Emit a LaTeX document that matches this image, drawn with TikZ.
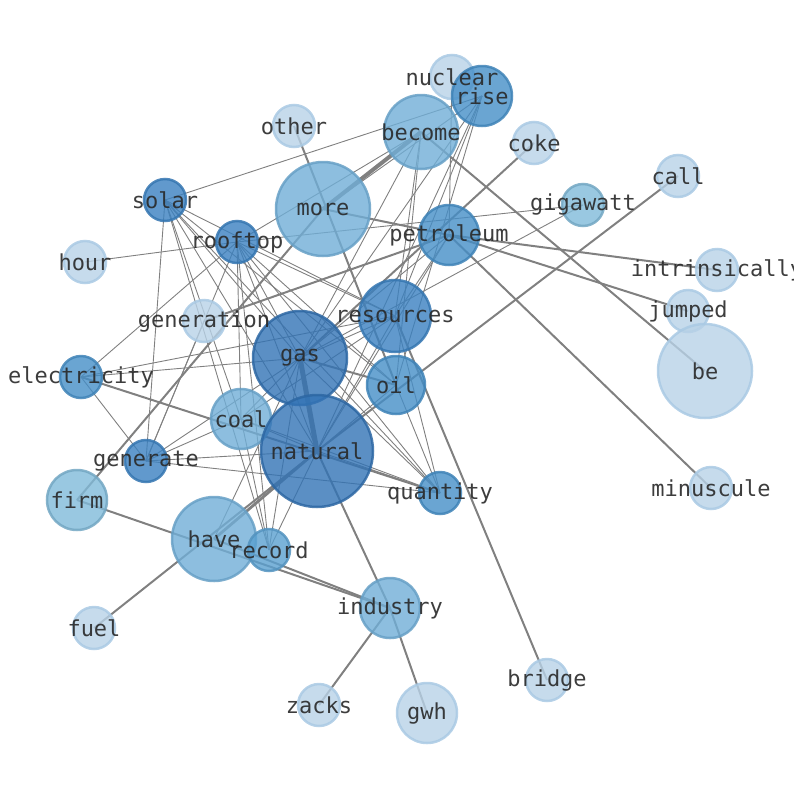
\documentclass[tikz,border=0pt]{standalone}
\usepackage{fontspec}
\setmonofont{DejaVu Sans Mono}
\pgfdeclarelayer{edges}
\pgfdeclarelayer{labels}
\pgfsetlayers{edges,main,labels}
\definecolor{cLight}{RGB}{184,210,231}
\definecolor{cLightB}{RGB}{170,202,228}
\definecolor{cFirm}{RGB}{128,186,217}
\definecolor{cMedL}{RGB}{112,174,215}
\definecolor{cMed}{RGB}{90,160,208}
\definecolor{cDarkish}{RGB}{69,142,199}
\definecolor{cDarker}{RGB}{58,128,192}
\definecolor{cDark}{RGB}{50,115,181}
\definecolor{cEdge}{RGB}{128,128,128}
\definecolor{cText}{RGB}{40,40,40}
\tikzset{
  gn/.style={circle, inner sep=0pt, fill opacity=0.8, draw opacity=0.85, line width=2.5pt},
  nLight/.style={gn, fill=cLight, draw=cLightB},
  nFirm/.style={gn, fill=cFirm, draw=cFirm!90!black},
  nMedL/.style={gn, fill=cMedL, draw=cMedL!92!black},
  nMed/.style={gn, fill=cMed, draw=cMed!92!black},
  nDarkish/.style={gn, fill=cDarkish, draw=cDarkish!92!black},
  nDarker/.style={gn, fill=cDarker, draw=cDarker!92!black},
  nDark/.style={gn, fill=cDark, draw=cDark!90!black},
  lbl/.style={font=\ttfamily\fontsize{22}{26}\selectfont, text=cText, text opacity=0.9, inner sep=0pt},
  ethin/.style={draw=cEdge, line width=0.9pt},
  emid/.style={draw=cEdge, line width=2pt},
  ethick/.style={draw=cEdge, line width=2.8pt},
  evthick/.style={draw=cEdge, line width=5pt},
}
\newcommand\gnode[6]{\node[#5, minimum size=#4*2pt] (#1) at (#2,#3) {};
  \begin{pgfonlayer}{labels}\node[lbl] (#1-t) at (#1.center) {#6};\end{pgfonlayer}}
\begin{document}
\begin{tikzpicture}[x=1pt,y=-1pt]
\useasboundingbox (0,0) rectangle (794,790);
\gnode{nuclear}{452}{77}{22}{nLight}{nuclear}
\gnode{rise}{482}{96}{30}{nDarkish}{rise}
\gnode{become}{421}{132}{37}{nMedL}{become}
\gnode{other}{294}{126}{21}{nLight}{other}
\gnode{coke}{534}{143}{21}{nLight}{coke}
\gnode{call}{678}{176}{21}{nLight}{call}
\gnode{more}{323}{209}{47}{nMedL}{more}
\gnode{solar}{165}{200}{21}{nDarker}{solar}
\gnode{rooftop}{237}{242}{21}{nDarker}{rooftop}
\gnode{gigawatt}{583}{205}{21}{nFirm}{gigawatt}
\gnode{petroleum}{449}{235}{30}{nDarkish}{petroleum}
\gnode{hour}{85}{262}{21}{nLight}{hour}
\gnode{intrinsically}{717}{270}{21}{nLight}{intrinsically}
\gnode{generation}{204}{321}{21}{nLight}{generation}
\gnode{resources}{395}{316}{36}{nDarker}{resources}
\gnode{jumped}{688}{311}{21}{nLight}{jumped}
\gnode{gas}{300}{358}{47}{nDark}{gas}
\gnode{be}{705}{371}{47}{nLight}{be}
\gnode{electricity}{81}{377}{21}{nDarkish}{electricity}
\gnode{oil}{396}{385}{29}{nDarkish}{oil}
\gnode{coal}{241}{419}{30}{nMedL}{coal}
\gnode{natural}{317}{451}{56}{nDark}{natural}
\gnode{generate}{146}{461}{21}{nDarker}{generate}
\gnode{minuscule}{711}{488}{21}{nLight}{minuscule}
\gnode{quantity}{440}{493}{21}{nDarkish}{quantity}
\gnode{firm}{77}{500}{30}{nFirm}{firm}
\gnode{have}{214}{539}{42}{nMedL}{have}
\gnode{record}{269}{550}{21}{nMed}{record}
\gnode{industry}{390}{608}{30}{nMedL}{industry}
\gnode{fuel}{94}{628}{21}{nLight}{fuel}
\gnode{bridge}{547}{680}{21}{nLight}{bridge}
\gnode{zacks}{319}{705}{21}{nLight}{zacks}
\gnode{gwh}{427}{713}{30}{nLight}{gwh}
\begin{pgfonlayer}{edges}
\foreach \a/\b in {solar/resources, rooftop/resources, solar/rise, solar/generate, solar/coal,
  solar/gas, solar/natural, solar/record, solar/oil, solar/quantity,
  rooftop/hour, rooftop/gigawatt, rooftop/become, rooftop/generate, rooftop/coal, rooftop/gas,
  rooftop/natural, rooftop/record, rooftop/quantity, rooftop/electricity, rooftop/oil,
  rise/resources, rise/natural, rise/oil, rise/gas, rise/more,
  become/oil, become/gas, become/resources, nuclear/petroleum,
  gas/gigawatt, gas/resources, gas/quantity, gas/coal, gas/generate, gas/record,
  gas/electricity, gas/petroleum,
  natural/resources, natural/oil, natural/quantity, natural/generate, natural/record,
  natural/coal, natural/petroleum,
  generate/coal, generate/generation, generate/electricity, generate/quantity,
  electricity/resources, coal/quantity, coal/record, coal/resources,
  oil/quantity, resources/quantity, have/gas, resources/petroleum}
  \draw[ethin] (\a.center) -- (\b.center);
\foreach \a/\b in {become/be, petroleum/minuscule, petroleum/intrinsically, petroleum/jumped,
  call/natural, fuel/natural, coke/gas, generation/petroleum, firm/more, firm/industry,
  have/industry, industry/zacks, natural/industry, industry/gwh, bridge/resources,
  more/petroleum, electricity/quantity, gas/oil, other/oil}
  \draw[emid] (\a.center) -- (\b.center);
\draw[ethick] (have.center) -- (natural.center);
\draw[evthick] (gas.center) -- (natural.center);
\draw[evthick, line width=4pt] (become.center) -- (more.center);
\end{pgfonlayer}
\end{tikzpicture}
\end{document}
